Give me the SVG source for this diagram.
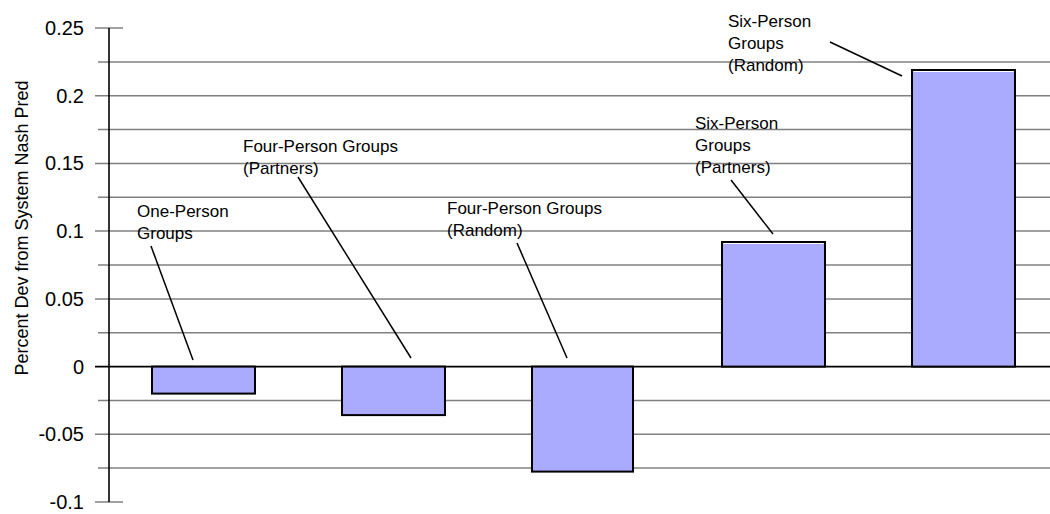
<svg xmlns="http://www.w3.org/2000/svg" width="1050" height="514" viewBox="0 0 1050 514">
<style>
text { font-family: "Liberation Sans", Arial, sans-serif; fill: #000; }
.tick { font-size: 20px; text-anchor: end; }
.lbl { font-size: 17px; }
.title { font-size: 18px; }
.grid { stroke: #808080; stroke-width: 1.5; }
.axis { stroke: #000; stroke-width: 1.6; }
.bar { fill: #aaaaff; stroke: #000; stroke-width: 2; }
.hl { stroke: #fff; stroke-width: 1; }
.lead { stroke: #000; stroke-width: 1.5; fill: none; }
</style>
<rect width="1050" height="514" fill="#fff"/>
<g id="grid">
<line class="grid" x1="95" y1="28" x2="123" y2="28"/>
<line class="grid" x1="98" y1="61.9" x2="1050" y2="61.9"/>
<line class="grid" x1="95" y1="95.7" x2="1050" y2="95.7"/>
<line class="grid" x1="98" y1="129.6" x2="1050" y2="129.6"/>
<line class="grid" x1="95" y1="163.4" x2="1050" y2="163.4"/>
<line class="grid" x1="98" y1="197.3" x2="1050" y2="197.3"/>
<line class="grid" x1="95" y1="231.1" x2="1050" y2="231.1"/>
<line class="grid" x1="98" y1="265" x2="1050" y2="265"/>
<line class="grid" x1="95" y1="298.9" x2="1050" y2="298.9"/>
<line class="grid" x1="98" y1="332.7" x2="1050" y2="332.7"/>
<line class="grid" x1="98" y1="400.4" x2="1050" y2="400.4"/>
<line class="grid" x1="95" y1="434.3" x2="1050" y2="434.3"/>
<line class="grid" x1="98" y1="468.1" x2="1050" y2="468.1"/>
<line class="grid" x1="95" y1="502" x2="123" y2="502"/>
</g>
<g id="axis">
<line class="axis" x1="109" y1="28" x2="109" y2="502"/>
<line class="axis" x1="95" y1="366.6" x2="1050" y2="366.6"/>
<text class="tick" x="84" y="35">0.25</text>
<text class="tick" x="84" y="102.7">0.2</text>
<text class="tick" x="84" y="170.4">0.15</text>
<text class="tick" x="84" y="238.1">0.1</text>
<text class="tick" x="84" y="305.9">0.05</text>
<text class="tick" x="84" y="373.6">0</text>
<text class="tick" x="84" y="441.3">-0.05</text>
<text class="tick" x="84" y="509">-0.1</text>
<text class="title" transform="translate(28,228) rotate(-90)" text-anchor="middle">Percent Dev from System Nash Pred</text>
</g>
<g id="bar-one-person">
<rect class="bar" x="152" y="366.6" width="103" height="27"/>
<text class="lbl" x="137" y="217">One-Person</text>
<text class="lbl" x="137" y="239">Groups</text>
</g>
<g id="bar-four-partners">
<rect class="bar" x="342" y="366.6" width="103" height="48.5"/>
<text class="lbl" x="243" y="152">Four-Person Groups</text>
<text class="lbl" x="243" y="174">(Partners)</text>
</g>
<g id="bar-four-random">
<rect class="bar" x="532" y="366.6" width="101" height="105"/>
<text class="lbl" x="447" y="214">Four-Person Groups</text>
<text class="lbl" x="447" y="236">(Random)</text>
</g>
<g id="bar-six-partners">
<rect class="bar" x="722" y="242" width="103" height="124.6"/>
<line class="hl" x1="723.5" y1="243.5" x2="823.5" y2="243.5"/>
<text class="lbl" x="695" y="129">Six-Person</text>
<text class="lbl" x="695" y="151">Groups</text>
<text class="lbl" x="695" y="173">(Partners)</text>
</g>
<g id="bar-six-random">
<rect class="bar" x="912" y="70" width="103" height="296.6"/>
<line class="hl" x1="913.5" y1="71.5" x2="1013.5" y2="71.5"/>
<text class="lbl" x="728" y="27">Six-Person</text>
<text class="lbl" x="728" y="49">Groups</text>
<text class="lbl" x="728" y="71">(Random)</text>
</g>
<g id="connectors">
<line class="lead" x1="151" y1="246" x2="193" y2="360"/>
<line class="lead" x1="298" y1="177" x2="411" y2="358"/>
<line class="lead" x1="517" y1="243" x2="567" y2="358"/>
<line class="lead" x1="731" y1="180" x2="773" y2="234"/>
<line class="lead" x1="830" y1="42" x2="902" y2="76"/>
</g>
</svg>
